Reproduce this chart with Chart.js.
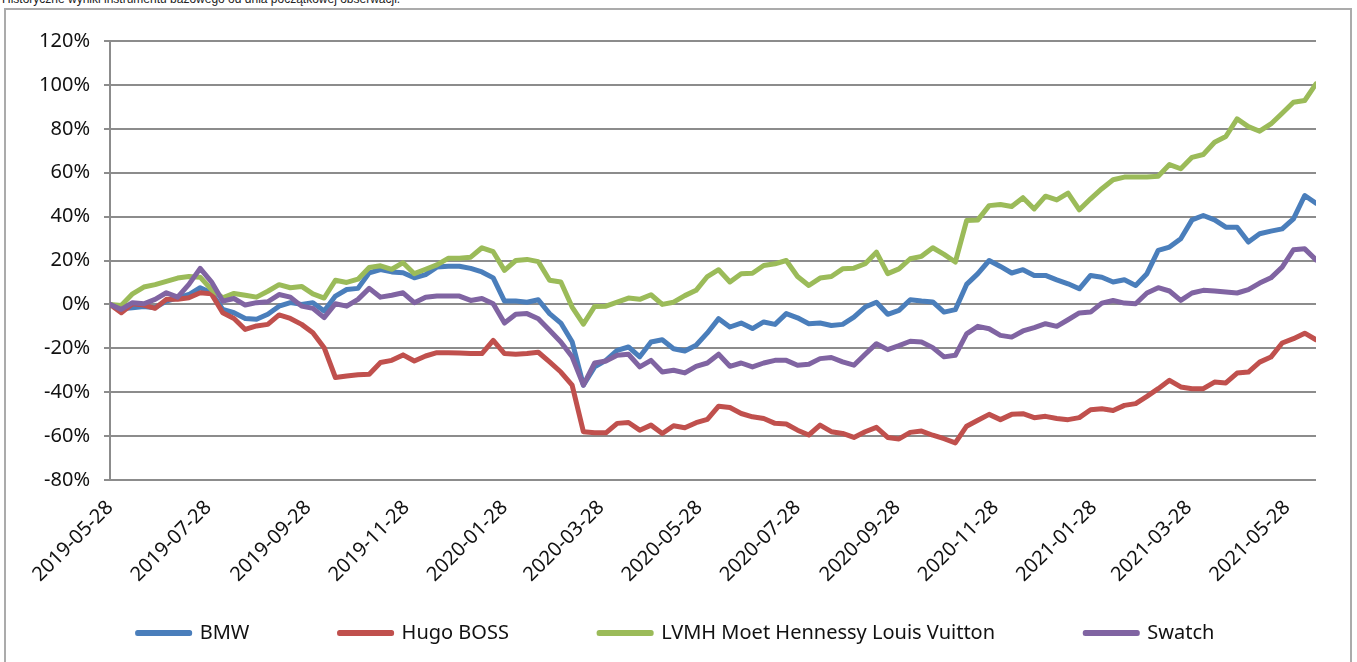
<!DOCTYPE html>
<html>
<head>
<meta charset="utf-8">
<script src="https://cdn.jsdelivr.net/npm/chart.js@4/dist/chart.umd.min.js"></script>
<style>
    html, body { margin: 0; padding: 0; background: #fff; overflow: hidden; }
    #wrap { position: relative; width: 1357px; height: 662px; }
    #note { position: absolute; left: 2px; top: -8px; font: 12px/14px 'Liberation Sans', Arial, sans-serif; color: #222; white-space: nowrap; }
    #frame { position: absolute; left: 4px; top: 8px; width: 1344px; height: 670px; border: 2px solid #ababab; }
    #returns { position: absolute; left: 0; top: 0; }
</style>
</head>
<body>
<div id="wrap">
    <div id="note">Historyczne wyniki instrumentu bazowego od dnia początkowej obserwacji.</div>
    <div id="frame"></div>
    <canvas id="returns" width="1357" height="662"></canvas>
</div>
<script>
var blue = 'rgb(74, 126, 187)';
var red = 'rgb(192, 80, 77)';
var green = 'rgb(155, 187, 89)';
var purple = 'rgb(128, 100, 162)';
var gridGray = 'rgb(140, 140, 140)';

////////////////////////////////////////////////////////////////////////////////
// Data: weekly returns in %, first observation 2019-05-28.

var seriesNames = ['BMW', 'Hugo BOSS', 'LVMH Moet Hennessy Louis Vuitton', 'Swatch'];

var tickLabels = ['2019-05-28', '2019-07-28', '2019-09-28', '2019-11-28', '2020-01-28', '2020-03-28',
    '2020-05-28', '2020-07-28', '2020-09-28', '2020-11-28', '2021-01-28', '2021-03-28', '2021-05-28'];
// Days after 2019-05-28 for each tick label.
var tickDays = [0, 61, 123, 184, 245, 305, 366, 427, 489, 550, 611, 670, 731];

var bmw = [0, -2, -1.5, -1, -1.5, 1.5, 3, 4.5, 7.6, 5.3,
    -2.3, -3.8, -6.4, -6.8, -4.5, -0.8, 0.8, 0, 0.8, -3,
    3.8, 6.8, 7.3, 14.4, 15.9, 14.8, 14.4, 12.1, 13.6, 17,
    17.4, 17.4, 16.4, 14.8, 12.1, 1.5, 1.5, 1, 2.1, -4.2,
    -8.5, -17, -36.8, -28.5, -25.5, -20.9, -19.4, -23.9, -17.1, -16.1,
    -20.2, -21.2, -18.6, -13, -6.5, -10.3, -8.5, -11, -8, -9.1,
    -4.2, -6.1, -8.8, -8.5, -9.6, -9.1, -5.8, -1.2, 1, -4.5,
    -2.7, 2.1, 1.5, 1.1, -3.5, -2.4, 9.1, 14, 20, 17.3,
    14.3, 15.8, 13.2, 13.2, 11.2, 9.4, 7.1, 13.2, 12.4, 10.2,
    11.2, 8.6, 14, 24.6, 26.1, 29.9, 38.5, 40.5, 38.5, 35.2,
    35.2, 28.4, 32.2, 33.4, 34.4, 39, 49.6, 46.1];

var hugoBoss = [0, -3.8, 0.3, -0.3, -1.8, 2.3, 2.3, 3, 5.3, 4.8,
    -3.8, -6.4, -11.4, -9.8, -9.1, -4.8, -6.4, -9.1, -12.9, -19.7,
    -33.3, -32.6, -32.1, -31.8, -26.5, -25.5, -23, -25.8, -23.5, -22,
    -22, -22.1, -22.4, -22.4, -16.4, -22.4, -22.7, -22.4, -21.8, -26.2,
    -30.8, -36.8, -58, -58.5, -58.5, -54.2, -53.8, -57.3, -55, -58.8,
    -55.3, -56.2, -53.9, -52.4, -46.4, -47, -49.7, -51.2, -52, -54.2,
    -54.5, -57.3, -59.5, -55, -58, -58.8, -60.6, -58, -56, -60.6,
    -61.3, -58.3, -57.7, -59.6, -61.2, -63.1, -55.5, -52.8, -50.1, -52.5,
    -50.1, -49.8, -51.6, -51, -52, -52.5, -51.6, -48, -47.5, -48.3,
    -46, -45.2, -41.9, -38.4, -34.6, -37.6, -38.4, -38.4, -35.4, -35.8,
    -31.3, -30.8, -26.3, -24, -17.6, -15.6, -13.1, -16.1];

var lvmh = [0, -0.5, 4.8, 7.9, 9, 10.5, 12, 12.7, 12.4, 6.8,
    3, 5, 4.2, 3.3, 6, 9, 7.6, 8.2, 4.8, 2.9,
    11, 10, 11.5, 16.8, 17.6, 16, 19, 14, 16, 18,
    21, 21, 21.5, 25.8, 24, 15.5, 20, 20.5, 19.5, 11,
    10.2, -1.2, -9, -0.9, -0.8, 1, 2.9, 2.3, 4.4, 0,
    1, 4, 6.4, 12.7, 15.8, 10.2, 14, 14.2, 17.7, 18.5,
    20, 12.7, 8.6, 12, 12.7, 16.2, 16.5, 18.5, 23.8, 14,
    16.2, 20.8, 21.9, 25.8, 22.8, 19.3, 38.2, 38.5, 45, 45.5,
    44.6, 48.6, 43.5, 49.3, 47.6, 50.7, 43.1, 48.1, 52.7, 56.8,
    58, 58, 58, 58.4, 63.7, 61.8, 67, 68.3, 73.9, 76.5,
    84.5, 81, 78.9, 82.2, 87.1, 92.1, 92.9, 100.5];

var swatch = [0, -2.3, 0.8, 0.3, 2.3, 5.3, 3.3, 9.1, 16.4, 10.3,
    1.5, 2.7, -0.3, 0.8, 1.2, 4.5, 3.3, -0.8, -1.8, -6,
    0.3, -0.8, 2.3, 7.3, 3.3, 4.2, 5.3, 0.8, 3.3, 3.8,
    3.8, 3.8, 1.8, 2.7, 0.3, -8.5, -4.5, -4.2, -6.5, -11.8,
    -17.1, -23.9, -36.8, -26.7, -25.8, -23.2, -22.7, -28.5, -25.5, -30.8,
    -30, -31.2, -28.2, -26.7, -22.7, -28.2, -26.7, -28.5, -26.7, -25.5,
    -25.5, -27.7, -27.3, -24.7, -24.2, -26.2, -27.7, -22.7, -17.9, -20.6,
    -18.8, -16.8, -17.1, -19.7, -23.9, -23.2, -13.4, -10, -11.1, -14.1,
    -14.9, -12.1, -10.6, -8.8, -10, -7, -3.9, -3.5, 0.6, 1.8,
    0.6, 0.3, 5.2, 7.6, 6.1, 1.8, 5.2, 6.4, 6.1, 5.6,
    5.2, 6.7, 9.7, 12.1, 17, 24.9, 25.3, 20.3];

////////////////////////////////////////////////////////////////////////////////
// Chart.

// Each observation is one week after the previous one.
function toPoints(values) {
    return values.map(function (v, i) { return { x: i * 7, y: v }; });
}

function lineSet(name, values, color, order) {
    return {
        label: name,
        data: toPoints(values),
        borderColor: color,
        backgroundColor: color,
        borderWidth: 5,
        borderJoinStyle: 'round',
        borderCapStyle: 'round',
        pointRadius: 0,
        tension: 0,
        // Later series are drawn on top, like in the original.
        order: order
    };
}

Chart.defaults.font.family = "'Noto Sans', 'Open Sans', sans-serif";
Chart.defaults.font.size = 20;
Chart.defaults.color = '#111';

var ctx = document.getElementById('returns').getContext('2d');
var myChart = new Chart(ctx, {
    type: 'line',
    data: {
        datasets: [
            lineSet(seriesNames[0], bmw, blue, 3),
            lineSet(seriesNames[1], hugoBoss, red, 2),
            lineSet(seriesNames[2], lvmh, green, 1),
            lineSet(seriesNames[3], swatch, purple, 0)
        ]
    },
    options: {
        responsive: false,
        animation: false,
        layout: {
            padding: { left: 36, right: 41, top: 41, bottom: 9 }
        },
        plugins: {
            tooltip: { enabled: false },
            legend: {
                position: 'bottom',
                labels: {
                    boxWidth: 52,
                    boxHeight: 1,
                    padding: 33,
                    // Wide gaps between the entries, as in the original.
                    generateLabels: function (chart) {
                        var items = Chart.defaults.plugins.legend.labels.generateLabels(chart);
                        items.forEach(function (item) {
                            if (item.datasetIndex < seriesNames.length - 1) {
                                item.text += '\u00a0'.repeat(11);
                            }
                        });
                        return items;
                    },
                    sort: function (a, b) { return a.datasetIndex - b.datasetIndex; }
                }
            }
        },
        scales: {
            x: {
                type: 'linear',
                min: 0,
                max: 749,
                grid: { display: false },
                border: { display: false },
                afterBuildTicks: function (scale) {
                    scale.ticks = tickDays.map(function (d) { return { value: d }; });
                },
                afterFit: function (scale) {
                    scale.height = 110;
                },
                ticks: {
                    autoSkip: false,
                    minRotation: 45,
                    maxRotation: 45,
                    padding: 8,
                    callback: function (value) {
                        return tickLabels[tickDays.indexOf(value)];
                    }
                }
            },
            y: {
                min: -80,
                max: 120,
                afterFit: function (scale) {
                    scale.width = 74;
                },
                grid: {
                    color: gridGray,
                    lineWidth: 2,
                    tickLength: 6
                },
                border: { color: gridGray, width: 2 },
                ticks: {
                    stepSize: 20,
                    padding: 14,
                    callback: function (value) { return value + '%'; }
                }
            }
        }
    }
});
</script>
</body>
</html>
